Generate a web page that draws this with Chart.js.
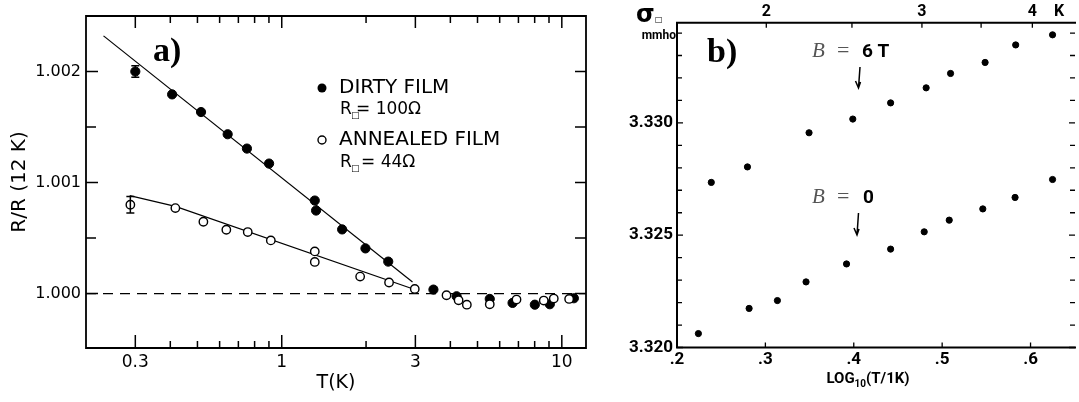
<!DOCTYPE html>
<html>
<head>
<meta charset="utf-8">
<script src="https://cdn.jsdelivr.net/npm/chart.js@4.4.1/dist/chart.umd.min.js"></script>
<style>
  body { margin: 0; background: #fff; width: 1079px; height: 402px; overflow: hidden; position: relative; }
  #chartA { position: absolute; left: 0; top: 0; }
  #chartB { position: absolute; left: 600px; top: 0; }
</style>
</head>
<body>
<canvas id="chartA" width="600" height="402"></canvas>
<canvas id="chartB" width="480" height="402"></canvas>
<script>
// ---- panel a) : R/R(12K) vs T(K)
const dirtyT = [0.3, 0.406, 0.515, 0.641, 0.751, 0.901, 1.312, 1.326, 1.643, 1.99, 2.40, 3.48, 4.21, 5.53, 6.67, 8.01, 9.06, 11.04];
const dirtyR = [1.002, 1.001794, 1.001635, 1.001435, 1.001306, 1.001171, 1.000838, 1.000748, 1.000578, 1.000407, 1.000288, 1.000036, 0.999976, 0.999952, 0.999916, 0.9999, 0.999904, 0.999958];
const annealT = [0.288, 0.417, 0.525, 0.634, 0.756, 0.914, 1.312, 1.312, 1.905, 2.416, 2.985, 3.875, 4.28, 4.58, 5.53, 6.89, 8.62, 9.36, 10.62];
const annealR = [1.0008, 1.00077, 1.000647, 1.000575, 1.000554, 1.000479, 1.00038, 1.000285, 1.000153, 1.0001, 1.000042, 0.999985, 0.99994, 0.9999, 0.999904, 0.999946, 0.999937, 0.999955, 0.999952];
const dirtyFitT = [0.231, 2.93];
const dirtyFitR = [1.002321, 1.000105];
const annealFitT = [0.2865, 0.417, 3.0];
const annealFitR = [1.000883, 1.000785, 1.000035];
const baseT = [0.2, 12.2];
const baseR = [1.0, 1.0];
const errT = [0.3, 0.288];
const errR = [1.002, 1.0008];
const errHalf = [0.000052, 0.000075];

const xLabelA = [0.3, 1, 3, 10];
const xMinorA = [0.4, 0.5, 0.6, 0.7, 0.8, 0.9, 2, 4, 5, 6, 7, 8, 9];
const yLabelA = [1.000, 1.001, 1.002];
const yMinorA = [1.0005, 1.0015];

// ---- panel b) : sigma vs log10(T/1K)
const b0X = [0.2242, 0.2816, 0.3136, 0.3460, 0.3918, 0.4417, 0.4797, 0.5080, 0.5460, 0.5825, 0.6249];
const b0S = [3.32062, 3.32174, 3.32209, 3.32292, 3.32372, 3.32438, 3.32515, 3.32567, 3.32617, 3.32668, 3.32748];
const b6X = [0.2388, 0.2797, 0.3494, 0.3989, 0.4417, 0.4819, 0.5095, 0.5486, 0.5832, 0.6249];
const b6S = [3.32735, 3.32804, 3.32956, 3.33017, 3.33089, 3.33156, 3.33220, 3.33269, 3.33347, 3.33392];

const xLabelB = [0.2, 0.3, 0.4, 0.5, 0.6];
const topLabelT = [2, 3, 4];
const topMinorT = [2.5, 3.5];
const yLabelB = [3.320, 3.325, 3.330];
const yMinorB = [3.321, 3.322, 3.323, 3.324, 3.326, 3.327, 3.328, 3.329, 3.331, 3.332, 3.333, 3.334];

const sans = "'DejaVu Sans', sans-serif";
const narrow = "Roboto, 'DejaVu Sans Condensed', sans-serif";
const serif = "'Liberation Serif', 'DejaVu Serif', serif";

function pts(xs, ys) {
    return xs.map((x, i) => ({ x: x, y: ys[i] }));
}

// frame + inward ticks, drawn through the chart's scales
function makeFrame(id, marks, frameWidth, tickWidth, sides) {
    return {
        id: id,
        afterDatasetsDraw(chart) {
            const { ctx, chartArea: a, scales } = chart;
            ctx.save();
            ctx.strokeStyle = '#000';
            ctx.lineWidth = tickWidth;
            ctx.beginPath();
            for (const m of marks) {
                const s = scales[m.scale];
                for (const v of m.values) {
                    const p = s.getPixelForValue(m.map ? m.map(v) : v);
                    if (m.side === 'bottom') { ctx.moveTo(p, a.bottom); ctx.lineTo(p, a.bottom - m.len); }
                    if (m.side === 'top') { ctx.moveTo(p, a.top); ctx.lineTo(p, a.top + m.len); }
                    if (m.side === 'left') { ctx.moveTo(a.left, p); ctx.lineTo(a.left + m.len, p); }
                    if (m.side === 'right') { ctx.moveTo(a.right, p); ctx.lineTo(a.right - m.len, p); }
                }
            }
            ctx.stroke();
            ctx.lineWidth = frameWidth;
            ctx.lineCap = 'square';
            ctx.beginPath();
            if (sides.includes('top')) { ctx.moveTo(a.left, a.top); ctx.lineTo(a.right, a.top); }
            if (sides.includes('bottom')) { ctx.moveTo(a.left, a.bottom); ctx.lineTo(a.right, a.bottom); }
            if (sides.includes('left')) { ctx.moveTo(a.left, a.top); ctx.lineTo(a.left, a.bottom); }
            if (sides.includes('right')) { ctx.moveTo(a.right, a.top); ctx.lineTo(a.right, a.bottom); }
            ctx.stroke();
            ctx.restore();
        }
    };
}

// error bars of panel a
const errorBars = {
    id: 'errorBars',
    afterDatasetsDraw(chart) {
        const { ctx, scales: { x, y } } = chart;
        ctx.save();
        ctx.strokeStyle = '#000';
        ctx.lineWidth = 1.5;
        ctx.beginPath();
        errT.forEach((t, i) => {
            const px = x.getPixelForValue(t);
            const y1 = y.getPixelForValue(errR[i] + errHalf[i]);
            const y2 = y.getPixelForValue(errR[i] - errHalf[i]);
            ctx.moveTo(px, y1); ctx.lineTo(px, y2);
            ctx.moveTo(px - 4, y1); ctx.lineTo(px + 4, y1);
            ctx.moveTo(px - 4, y2); ctx.lineTo(px + 4, y2);
        });
        ctx.stroke();
        ctx.restore();
    }
};

const notesA = {
    id: 'notesA',
    afterDraw(chart) {
        const ctx = chart.ctx;
        ctx.save();
        ctx.fillStyle = '#000';
        ctx.strokeStyle = '#000';
        ctx.font = "bold 34px " + serif;
        ctx.textBaseline = 'alphabetic';
        ctx.fillText('a)', 153, 61);

        ctx.beginPath(); ctx.arc(322, 88, 4.5, 0, 2 * Math.PI); ctx.fill();
        ctx.beginPath(); ctx.arc(322, 140, 4, 0, 2 * Math.PI); ctx.lineWidth = 1.4; ctx.stroke();

        ctx.textBaseline = 'middle';
        ctx.font = "20px " + sans;
        ctx.fillText('DIRTY FILM', 339, 88);
        ctx.fillText('ANNEALED FILM', 339, 140);

        ctx.font = "17px " + sans;
        ctx.fillText('R', 340, 110);
        ctx.fillText('= 100Ω', 356, 110);
        ctx.fillText('R', 340, 163);
        ctx.fillText('= 44Ω', 361, 163);
        ctx.font = "9px " + sans;
        ctx.fillText('□', 351, 116);
        ctx.fillText('□', 351, 169);
        ctx.restore();
    }
};

const notesB = {
    id: 'notesB',
    afterDraw(chart) {
        const ctx = chart.ctx;
        ctx.save();
        ctx.fillStyle = '#000';
        ctx.strokeStyle = '#000';
        ctx.textBaseline = 'alphabetic';
        ctx.font = "bold 34px " + serif;
        ctx.fillText('b)', 107, 62);

        ctx.font = "bold 24px " + sans;
        ctx.fillText('σ', 36, 22);
        ctx.font = "bold 8px " + sans;
        ctx.fillText('□', 55, 22);
        ctx.font = "bold 12px " + narrow;
        ctx.textAlign = 'right';
        ctx.fillText('mmho', 76, 39);

        ctx.textAlign = 'left';
        ctx.fillStyle = '#555';
        ctx.font = "italic 21px " + serif;
        ctx.fillText('B', 212, 57);
        ctx.fillText('B', 212, 203);
        ctx.font = "22px " + serif;
        ctx.fillText('=', 237, 57);
        ctx.fillText('=', 237, 203);
        ctx.fillStyle = '#000';
        ctx.font = "bold 19px " + narrow;
        ctx.fillText('6 T', 262, 57);
        ctx.fillText('0', 263, 203);

        ctx.lineWidth = 1.5;
        const arrow = (x1, y1, x2, y2) => {
            ctx.beginPath();
            ctx.moveTo(x1, y1); ctx.lineTo(x2, y2);
            ctx.moveTo(x2 - 3, y2 - 7); ctx.lineTo(x2, y2); ctx.lineTo(x2 + 2, y2 - 6);
            ctx.stroke();
        };
        arrow(260, 67, 258.5, 88);
        arrow(258.5, 213, 257, 235);

        ctx.font = "bold 16px " + narrow;
        ctx.textAlign = 'center';
        ctx.textBaseline = 'middle';
        ctx.fillText('K', 459, 12);

        // x axis title with subscript
        ctx.textAlign = 'left';
        ctx.font = "bold 15px " + narrow;
        const w1 = ctx.measureText('LOG').width;
        ctx.font = "bold 10px " + narrow;
        const w2 = ctx.measureText('10').width;
        ctx.font = "bold 15px " + narrow;
        const w3 = ctx.measureText('(T/1K)').width;
        let x0 = 268 - (w1 + w2 + w3) / 2;
        ctx.fillText('LOG', x0, 379);
        ctx.font = "bold 10px " + narrow;
        ctx.fillText('10', x0 + w1, 384);
        ctx.font = "bold 15px " + narrow;
        ctx.fillText('(T/1K)', x0 + w1 + w2, 379);
        ctx.restore();
    }
};

const frameA = makeFrame('frameA', [
    { scale: 'x', side: 'bottom', values: xLabelA, len: 13 },
    { scale: 'x', side: 'bottom', values: xMinorA, len: 7 },
    { scale: 'x', side: 'top', values: xLabelA, len: 12 },
    { scale: 'x', side: 'top', values: xMinorA, len: 7 },
    { scale: 'y', side: 'left', values: yLabelA, len: 12 },
    { scale: 'y', side: 'left', values: yMinorA, len: 10 },
    { scale: 'y', side: 'right', values: yLabelA.concat(yMinorA), len: 11 }
], 1.8, 1.5, ['top', 'bottom', 'left', 'right']);

const frameB = makeFrame('frameB', [
    { scale: 'x', side: 'bottom', values: xLabelB, len: 5 },
    { scale: 'x', side: 'top', values: topLabelT.concat(topMinorT), len: 5, map: Math.log10 },
    { scale: 'y', side: 'left', values: yLabelB, len: 6 },
    { scale: 'y', side: 'left', values: yMinorB, len: 5 },
    { scale: 'y', side: 'right', values: yLabelB, len: 6 },
    { scale: 'y', side: 'right', values: yMinorB, len: 5 }
], 2, 1.3, ['top', 'bottom', 'left']);

const plain = { display: false, drawTicks: false };

new Chart(document.getElementById('chartA'), {
    type: 'scatter',
    data: {
        datasets: [
            { label: 'Annealed film', data: pts(annealT, annealR), pointRadius: 4.2, backgroundColor: '#fff', borderColor: '#000', borderWidth: 1.4, order: 0 },
            { label: 'Dirty film', data: pts(dirtyT, dirtyR), pointRadius: 4.6, backgroundColor: '#000', borderColor: '#000', order: 1 },
            { label: 'dirty fit', data: pts(dirtyFitT, dirtyFitR), showLine: true, pointRadius: 0, borderColor: '#000', borderWidth: 1.2, order: 2 },
            { label: 'annealed fit', data: pts(annealFitT, annealFitR), showLine: true, pointRadius: 0, borderColor: '#000', borderWidth: 1.2, order: 3 },
            { label: 'R = R(12 K)', data: pts(baseT, baseR), showLine: true, pointRadius: 0, borderColor: '#000', borderWidth: 1.4, borderDash: [10, 7], order: 4 }
        ]
    },
    options: {
        responsive: false,
        animation: false,
        layout: { padding: { top: 16, right: 14, left: 0, bottom: 0 } },
        plugins: { legend: { display: false }, tooltip: { enabled: false } },
        scales: {
            x: {
                type: 'logarithmic', min: 0.2, max: 12.2, bounds: 'data',
                grid: plain, border: { display: false },
                afterBuildTicks: s => { s.ticks = xLabelA.map(v => ({ value: v })); },
                afterFit: s => { s.height = 54; },
                ticks: { callback: v => String(v), color: '#000', font: { family: sans, size: 17 }, padding: 4, maxRotation: 0, autoSkip: false },
                title: { display: true, text: 'T(K)', color: '#000', font: { family: sans, size: 19 }, padding: { top: 0, bottom: 8 } }
            },
            y: {
                type: 'linear', min: 0.99951, max: 1.0025, bounds: 'data',
                grid: plain, border: { display: false },
                afterBuildTicks: s => { s.ticks = yLabelA.map(v => ({ value: v })); },
                afterFit: s => { s.width = 86; },
                ticks: { callback: v => v.toFixed(3), color: '#000', font: { family: sans, size: 16 }, padding: 5 },
                title: { display: true, text: 'R/R (12 K)', color: '#000', font: { family: sans, size: 20 }, padding: { top: 8, bottom: 0 } }
            }
        }
    },
    plugins: [frameA, errorBars, notesA]
});

new Chart(document.getElementById('chartB'), {
    type: 'scatter',
    data: {
        datasets: [
            { label: 'B = 6 T', data: pts(b6X, b6S), pointRadius: 3.1, backgroundColor: '#000', borderColor: '#000' },
            { label: 'B = 0', data: pts(b0X, b0S), pointRadius: 3.1, backgroundColor: '#000', borderColor: '#000' }
        ]
    },
    options: {
        responsive: false,
        animation: false,
        layout: { padding: 0 },
        plugins: { legend: { display: false }, tooltip: { enabled: false } },
        scales: {
            x: {
                type: 'linear', position: 'bottom', min: 0.2, max: 0.6503, bounds: 'data',
                grid: plain, border: { display: false },
                afterBuildTicks: s => { s.ticks = xLabelB.map(v => ({ value: v })); },
                afterFit: s => { s.height = 54.5; },
                ticks: { callback: v => v.toFixed(1).slice(1), color: '#000', font: { family: narrow, size: 17, weight: 'bold' }, padding: 2, maxRotation: 0, autoSkip: false }
            },
            x2: {
                type: 'linear', position: 'top', min: 0.2, max: 0.6503, bounds: 'data',
                grid: plain, border: { display: false },
                afterBuildTicks: s => { s.ticks = topLabelT.map(t => ({ value: Math.log10(t) })); },
                afterFit: s => { s.height = 22.7; },
                ticks: { callback: v => String(Math.round(Math.pow(10, v))), color: '#000', font: { family: narrow, size: 16, weight: 'bold' }, padding: 1, maxRotation: 0, autoSkip: false }
            },
            y: {
                type: 'linear', min: 3.320, max: 3.33446, bounds: 'data',
                grid: plain, border: { display: false },
                afterBuildTicks: s => { s.ticks = yLabelB.map(v => ({ value: v })); },
                afterFit: s => { s.width = 77; },
                ticks: { callback: v => v.toFixed(3), color: '#000', font: { family: narrow, size: 17, weight: 'bold' }, padding: 4 }
            }
        }
    },
    plugins: [frameB, notesB]
});
</script>
</body>
</html>
